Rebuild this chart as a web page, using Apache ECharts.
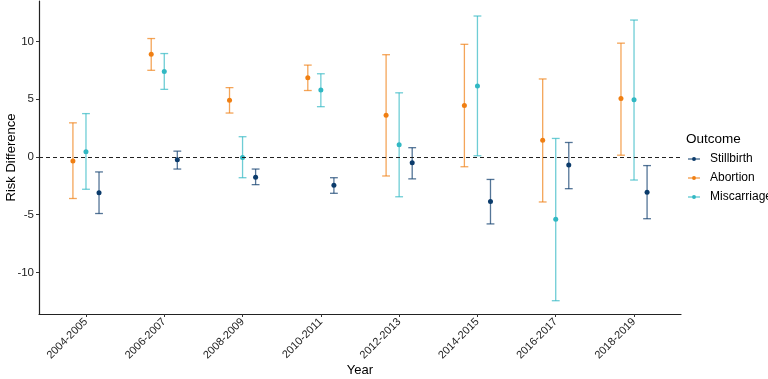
<!DOCTYPE html>
<html>
<head>
<meta charset="utf-8">
<script src="https://cdn.jsdelivr.net/npm/echarts@6/dist/echarts.min.js"></script>
<style>
  html, body { margin: 0; padding: 0; background: #fff; }
  #chart { width: 768px; height: 379px; }
</style>
</head>
<body>
<div id="chart"></div>
<script>
var years = ['2004-2005', '2006-2007', '2008-2009', '2010-2011', '2012-2013', '2014-2015', '2016-2017', '2018-2019'];
var yTicks = [-10, -5, 0, 5, 10];

var stillbirthEst  = [-3.1, -0.25, -1.75, -2.45, -0.5, -3.85, -0.7, -3.05];
var stillbirthLow  = [-4.9, -1.05, -2.4, -3.15, -1.9, -5.8, -2.75, -5.35];
var stillbirthHigh = [-1.3, 0.5, -1.05, -1.8, 0.8, -1.95, 1.25, -0.75];

var abortionEst  = [-0.35, 8.9, 4.9, 6.85, 3.6, 4.45, 1.45, 5.05];
var abortionLow  = [-3.6, 7.5, 3.8, 5.75, -1.65, -0.85, -3.9, 0.15];
var abortionHigh = [2.95, 10.25, 6.0, 7.95, 8.85, 9.75, 6.75, 9.85];

var miscarriageEst  = [0.45, 7.4, -0.05, 5.8, 1.05, 6.15, -5.4, 4.95];
var miscarriageLow  = [-2.8, 5.85, -1.8, 4.35, -3.45, 0.1, -12.45, -2.0];
var miscarriageHigh = [3.75, 8.95, 1.75, 7.2, 5.55, 12.2, 1.6, 11.85];

var chart = echarts.init(document.getElementById('chart'));

function pointData(est, off) {
    return est.map(function (v, i) { return [i + off, v]; });
}
function barData(low, high, off) {
    return low.map(function (v, i) { return [i + off, v, high[i]]; });
}
function renderErrorBar(params, api) {
    var x = api.value(0);
    var lo = api.coord([x, api.value(1)]);
    var hi = api.coord([x, api.value(2)]);
    var half = api.size([1, 0])[0] * 0.05;
    var style = { stroke: api.visual('color'), lineWidth: 1.3, opacity: 0.7 };
    return {
        type: 'group',
        children: [
            { type: 'line', shape: { x1: lo[0], y1: lo[1], x2: hi[0], y2: hi[1] }, style: style },
            { type: 'line', shape: { x1: lo[0] - half, y1: lo[1], x2: lo[0] + half, y2: lo[1] }, style: style },
            { type: 'line', shape: { x1: hi[0] - half, y1: hi[1], x2: hi[0] + half, y2: hi[1] }, style: style }
        ]
    };
}

var colors = { Stillbirth: '#0b3b6b', Abortion: '#f07f12', Miscarriage: '#31b8c3' };
var dodge = 0.5 / 3;
var keyIcon = 'path://M0,2.5 L12,2.5 L12,3.5 L0,3.5 Z M8,3 A2,2 0 1,1 4,3 A2,2 0 1,1 8,3 Z';

function makeSeries(name, est, low, high, off) {
    return [
        {
            name: name + ' CI', type: 'custom', renderItem: renderErrorBar,
            itemStyle: { color: colors[name] },
            encode: { x: 0, y: [1, 2] },
            data: barData(low, high, off), z: 2, silent: true
        },
        {
            name: name, type: 'scatter', symbol: 'circle', symbolSize: 5,
            itemStyle: { color: colors[name], opacity: 1 },
            data: pointData(est, off), z: 3
        }
    ];
}

var series = [].concat(
    makeSeries('Abortion', abortionEst, abortionLow, abortionHigh, -dodge),
    makeSeries('Miscarriage', miscarriageEst, miscarriageLow, miscarriageHigh, 0),
    makeSeries('Stillbirth', stillbirthEst, stillbirthLow, stillbirthHigh, dodge)
);
series[0].markLine = {
    silent: true, symbol: 'none', label: { show: false },
    lineStyle: { color: '#222', type: [4, 3], width: 1.2 },
    data: [{ yAxis: 0 }]
};

var option = {
    animation: false,
    textStyle: { fontFamily: 'Liberation Sans, Arial, sans-serif' },
    title: {
        text: 'Outcome', left: 681, top: 127,
        textStyle: { fontSize: 13.5, fontWeight: 'normal', color: '#000' }
    },
    legend: {
        orient: 'vertical', left: 683, top: 148,
        itemWidth: 12, itemHeight: 6, itemGap: 7,
        icon: keyIcon,
        textStyle: { fontSize: 12, color: '#000', padding: [0, 0, 0, 5] },
        data: ['Stillbirth', 'Abortion', 'Miscarriage']
    },
    grid: { left: 39, right: 87, top: 1, bottom: 65, containLabel: false, outerBoundsMode: 'none' },
    xAxis: {
        type: 'value', min: -0.6, max: 7.6,
        name: 'Year', nameLocation: 'middle', nameGap: 50, nameMoveOverlap: false,
        nameTextStyle: { fontSize: 13, color: '#000' },
        axisLine: { show: true, onZero: false, lineStyle: { color: '#222', width: 1.2 } },
        axisTick: { show: true, length: 3, customValues: [0, 1, 2, 3, 4, 5, 6, 7], lineStyle: { color: '#333' } },
        axisLabel: {
            customValues: [0, 1, 2, 3, 4, 5, 6, 7], rotate: 45, margin: 6,
            fontSize: 11, color: '#222',
            formatter: function (v) { return years[Math.round(v)]; }
        },
        splitLine: { show: false }
    },
    yAxis: {
        type: 'value', min: -13.6, max: 13.5,
        name: 'Risk Difference', nameLocation: 'middle', nameGap: 21, nameRotate: 90, nameMoveOverlap: false,
        nameTextStyle: { fontSize: 13, color: '#000' },
        axisLine: { show: true, onZero: false, lineStyle: { color: '#222', width: 1.2 } },
        axisTick: { show: true, length: 3, customValues: yTicks, lineStyle: { color: '#333' } },
        axisLabel: { customValues: yTicks, fontSize: 11.5, color: '#222', margin: 5 },
        splitLine: { show: false }
    },
    series: series
};
chart.setOption(option);
</script>
</body>
</html>
